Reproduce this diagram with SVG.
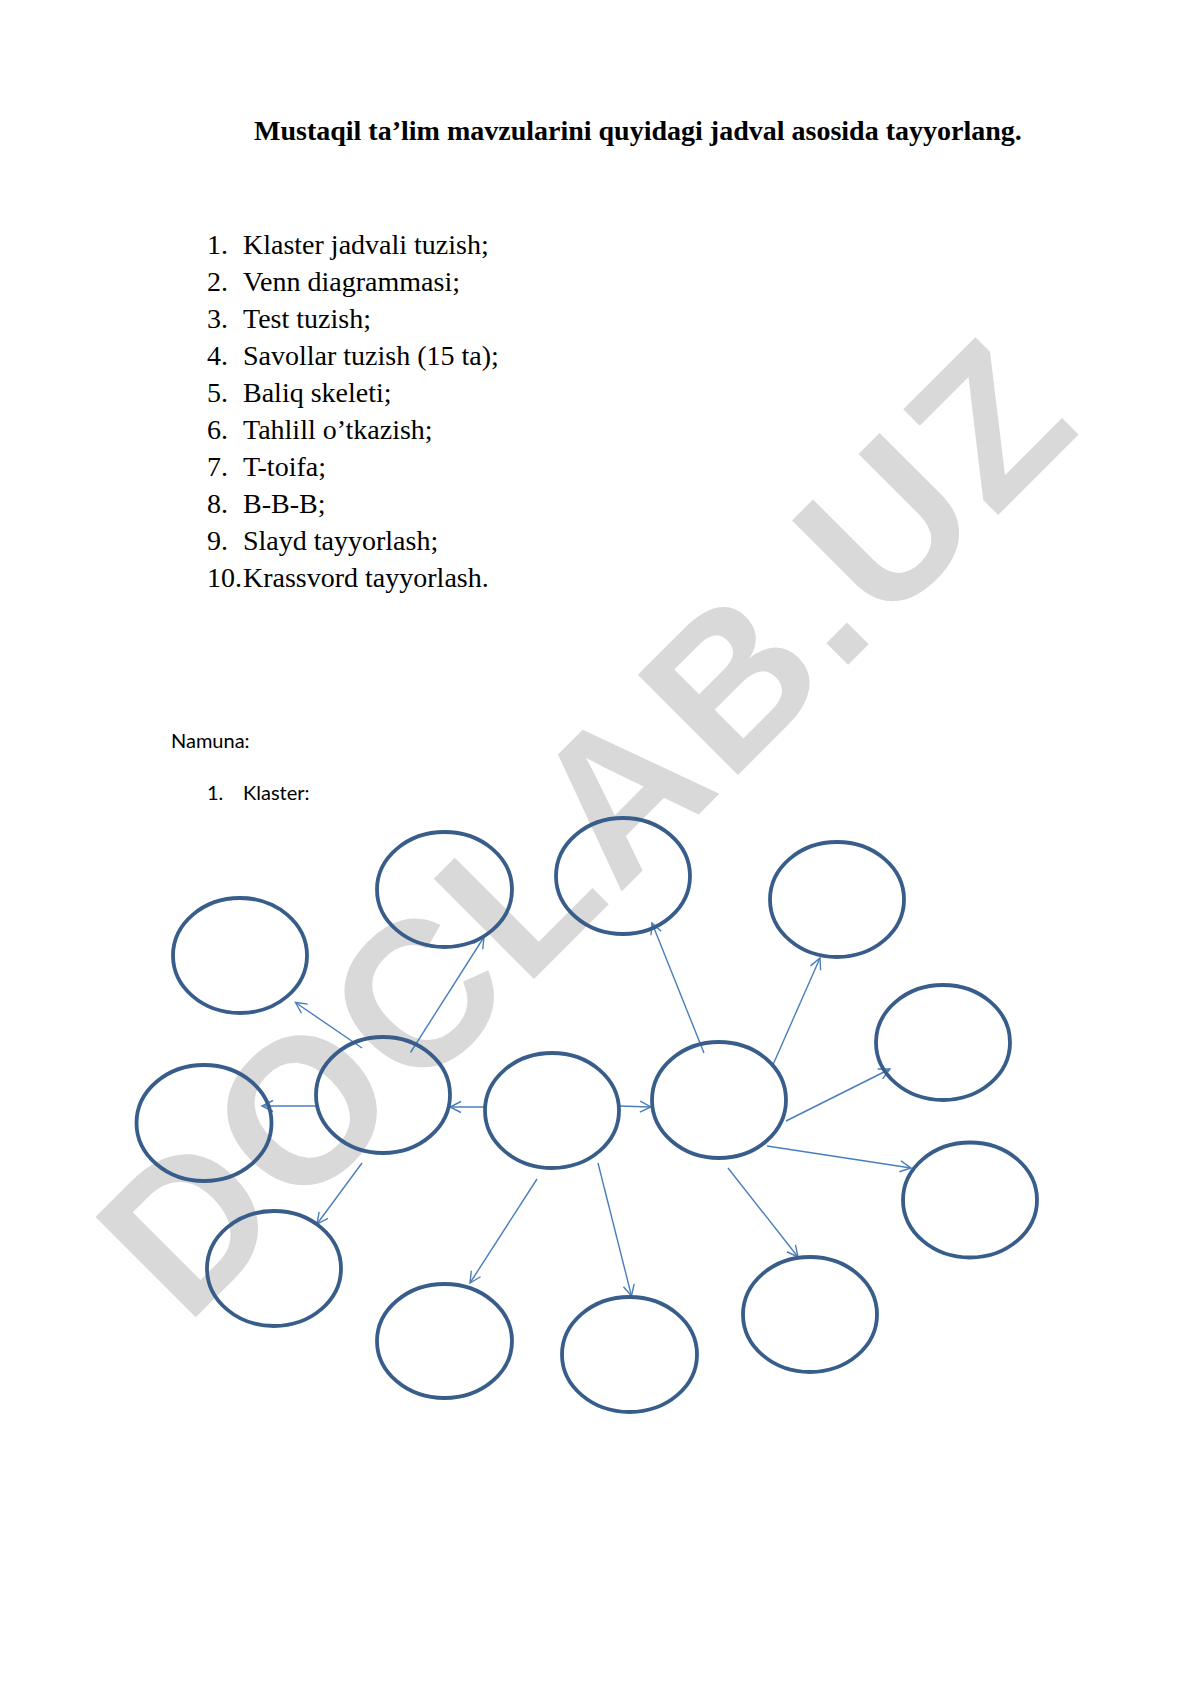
<svg xmlns="http://www.w3.org/2000/svg" width="1190" height="1683" viewBox="0 0 1190 1683">
<style>
  .title { font-family: "Liberation Serif", "Times New Roman", serif; font-size: 28px; font-weight: bold; fill: #000; }
  .item { font-family: "Liberation Serif", "Times New Roman", serif; font-size: 28px; fill: #000; }
  .small { font-family: Lato, "Liberation Sans", sans-serif; font-size: 20px; fill: #000; }
  .wm { font-family: "Liberation Sans", Arial, sans-serif; font-size: 206px; font-weight: bold; fill: #d9d9d9; }
  .node ellipse { fill: none; stroke: #385D8A; stroke-width: 3.8; }
  .conn line { stroke: #4A7EBB; stroke-width: 1.4; marker-end: url(#arr); }
</style>
<defs>
  <marker id="arr" viewBox="-13 -7 15 14" refX="0" refY="0" markerWidth="15" markerHeight="14" orient="auto" markerUnits="userSpaceOnUse">
    <path d="M-11,-5.5 L0,0 L-11,5.5" fill="none" stroke="#4A7EBB" stroke-width="1.4"/>
  </marker>
</defs>
<rect x="0" y="0" width="1190" height="1683" fill="#fff"/>

<text class="wm" transform="translate(186,1327) rotate(-45)" x="0" y="0" textLength="1268" lengthAdjust="spacing">DOCLAB.UZ</text>

<text class="title" x="254" y="140">Mustaqil ta’lim mavzularini quyidagi jadval asosida tayyorlang.</text>

<g id="list">
  <text class="item" x="207" y="254">1.</text><text class="item" x="243" y="254">Klaster jadvali tuzish;</text>
  <text class="item" x="207" y="291">2.</text><text class="item" x="243" y="291">Venn diagrammasi;</text>
  <text class="item" x="207" y="328">3.</text><text class="item" x="243" y="328">Test tuzish;</text>
  <text class="item" x="207" y="365">4.</text><text class="item" x="243" y="365">Savollar tuzish (15 ta);</text>
  <text class="item" x="207" y="402">5.</text><text class="item" x="243" y="402">Baliq skeleti;</text>
  <text class="item" x="207" y="439">6.</text><text class="item" x="243" y="439">Tahlill o’tkazish;</text>
  <text class="item" x="207" y="476">7.</text><text class="item" x="243" y="476">T-toifa;</text>
  <text class="item" x="207" y="513">8.</text><text class="item" x="243" y="513">B-B-B;</text>
  <text class="item" x="207" y="550">9.</text><text class="item" x="243" y="550">Slayd tayyorlash;</text>
  <text class="item" x="207" y="587">10.</text><text class="item" x="243" y="587">Krassvord tayyorlash.</text>
</g>

<text class="small" x="171" y="748">Namuna:</text>
<text class="small" x="207" y="800">1.</text>
<text class="small" x="243" y="800">Klaster:</text>

<g id="connectors" class="conn">
  <line x1="362" y1="1048" x2="295.5" y2="1002.5"/>
  <line x1="410.5" y1="1052.5" x2="484" y2="937"/>
  <line x1="316" y1="1106" x2="262" y2="1106"/>
  <line x1="485" y1="1107" x2="450" y2="1107"/>
  <line x1="362" y1="1163" x2="317" y2="1224"/>
  <line x1="619" y1="1106" x2="651" y2="1107"/>
  <line x1="704" y1="1053" x2="652" y2="923"/>
  <line x1="772" y1="1067" x2="820" y2="958"/>
  <line x1="786" y1="1121" x2="890" y2="1069"/>
  <line x1="767" y1="1146" x2="911" y2="1168"/>
  <line x1="728" y1="1168" x2="798" y2="1257"/>
  <line x1="598" y1="1163" x2="631.5" y2="1296"/>
  <line x1="537" y1="1179" x2="470" y2="1283"/>
</g>

<g id="n1" class="node"><ellipse cx="240" cy="955.5" rx="67" ry="57.5"/></g>
<g id="n2" class="node"><ellipse cx="444.5" cy="889.5" rx="67.5" ry="57.5"/></g>
<g id="n3" class="node"><ellipse cx="623" cy="876" rx="67" ry="58"/></g>
<g id="n4" class="node"><ellipse cx="837" cy="899.5" rx="67" ry="57.5"/></g>
<g id="n5" class="node"><ellipse cx="204" cy="1123" rx="67.5" ry="58"/></g>
<g id="n6" class="node"><ellipse cx="383" cy="1095" rx="67" ry="58"/></g>
<g id="n7" class="node"><ellipse cx="552" cy="1110.5" rx="67" ry="57.5"/></g>
<g id="n8" class="node"><ellipse cx="719" cy="1100" rx="67" ry="58"/></g>
<g id="n9" class="node"><ellipse cx="943" cy="1042.5" rx="67" ry="57.5"/></g>
<g id="n10" class="node"><ellipse cx="970" cy="1200" rx="67" ry="57.5"/></g>
<g id="n11" class="node"><ellipse cx="274" cy="1268.5" rx="67" ry="57.5"/></g>
<g id="n12" class="node"><ellipse cx="444.5" cy="1341" rx="67.5" ry="57"/></g>
<g id="n13" class="node"><ellipse cx="629.5" cy="1354.5" rx="67.5" ry="57.5"/></g>
<g id="n14" class="node"><ellipse cx="810" cy="1314.5" rx="67" ry="57.5"/></g>
</svg>
